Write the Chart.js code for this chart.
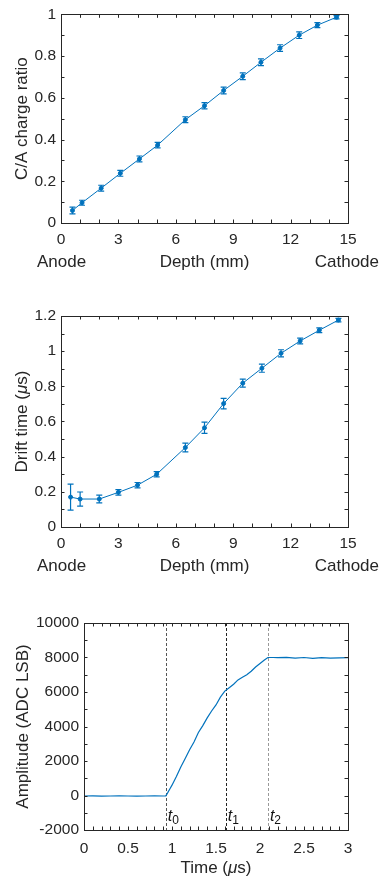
<!DOCTYPE html>
<html>
<head>
<meta charset="utf-8">
<script src="https://cdn.jsdelivr.net/npm/chart.js@4"></script>
<style>
  body { margin: 0; background: #fff; width: 382px; height: 878px; overflow: hidden; }
  .panel { position: absolute; left: 0; width: 382px; }
</style>
</head>
<body>
<div class="panel" style="top:0;height:295px"><canvas id="c1"></canvas></div>
<div class="panel" style="top:295px;height:300px"><canvas id="c2"></canvas></div>
<div class="panel" style="top:595px;height:283px"><canvas id="c3"></canvas></div>
<script>
// panel 1: C/A charge ratio vs depth
const depth1 = [0.6, 1.1, 2.1, 3.1, 4.1, 5.05, 6.5, 7.5, 8.5, 9.5, 10.45, 11.45, 12.45, 13.4, 14.4];
const ratio = [0.06, 0.097, 0.167, 0.238, 0.307, 0.373, 0.495, 0.562, 0.635, 0.703, 0.77, 0.838, 0.9, 0.948, 0.986];
const ratioErr = [0.016, 0.012, 0.014, 0.014, 0.014, 0.013, 0.014, 0.015, 0.016, 0.016, 0.016, 0.016, 0.016, 0.012, 0.008];

// panel 2: drift time vs depth
const depth2 = [0.5, 1, 2, 3, 4, 5, 6.5, 7.5, 8.5, 9.5, 10.5, 11.5, 12.5, 13.5, 14.5];
const drift = [0.17, 0.159, 0.159, 0.197, 0.238, 0.30, 0.452, 0.564, 0.702, 0.818, 0.903, 0.988, 1.058, 1.119, 1.177];
const driftErr = [0.074, 0.04, 0.022, 0.016, 0.015, 0.015, 0.025, 0.032, 0.03, 0.023, 0.023, 0.02, 0.016, 0.013, 0.01];

// panel 3: waveform
const time = [0, 0.1, 0.2, 0.3, 0.4, 0.5, 0.6, 0.7, 0.8, 0.9, 0.93, 0.95, 0.98, 1.0, 1.05, 1.1, 1.15, 1.2, 1.25, 1.3,
  1.35, 1.4, 1.45, 1.5, 1.55, 1.6, 1.65, 1.7, 1.75, 1.8, 1.85, 1.9, 1.95, 2.0, 2.05, 2.09, 2.15, 2.2, 2.3, 2.4,
  2.5, 2.6, 2.7, 2.8, 2.9, 3.0];
const amplitude = [-30, -20, -40, -30, -20, -30, -40, -30, -20, -30, -20, 150, 420, 600, 1100, 1650, 2150, 2650, 3100, 3650,
  4050, 4500, 4900, 5250, 5700, 6050, 6250, 6450, 6700, 6850, 7000, 7200, 7450, 7650, 7850, 8000, 8000, 7990, 8010, 7960,
  8000, 7950, 7990, 7960, 7980, 7990];
const markTimes = [0.93, 1.61, 2.09];
const markNames = ["0", "1", "2"];
const markColors = ["#555", "#222", "#999"];

const BLUE = "#0072BD";
const INK = "#262626";
const FONT = "'Liberation Sans', Arial, sans-serif";
const fmt = v => String(+v.toFixed(1));

function frame(chart, xMinor, yMinor) {
  const { ctx, chartArea: a, scales } = chart;
  const x = scales.x, y = scales.y;
  ctx.save();
  ctx.strokeStyle = INK;
  ctx.lineWidth = 1;
  ctx.strokeRect(Math.round(a.left) + 0.5, Math.round(a.top) + 0.5, Math.round(a.right - a.left), Math.round(a.bottom - a.top));
  const L = 3.5;
  ctx.beginPath();
  for (let k = 0; ; k++) {
    const v = x.min + k * xMinor;
    if (v > x.max + 1e-9) break;
    const px = Math.round(x.getPixelForValue(v)) + 0.5;
    ctx.moveTo(px, a.bottom); ctx.lineTo(px, a.bottom - L);
    ctx.moveTo(px, a.top); ctx.lineTo(px, a.top + L);
  }
  for (let k = 0; ; k++) {
    const v = y.min + k * yMinor;
    if (v > y.max + 1e-9) break;
    const py = Math.round(y.getPixelForValue(v)) + 0.5;
    ctx.moveTo(a.left, py); ctx.lineTo(a.left + L, py);
    ctx.moveTo(a.right, py); ctx.lineTo(a.right - L, py);
  }
  ctx.stroke();
  ctx.restore();
}

// draws a list of text parts in sequence; parts: [text, italic, size, dy]
function rich(ctx, parts, x, y, align) {
  let w = 0;
  parts.forEach(p => { ctx.font = (p[1] ? "italic " : "") + p[2] + "px " + FONT; w += ctx.measureText(p[0]).width; });
  let cx = align === "center" ? x - w / 2 : align === "right" ? x - w : x;
  ctx.textAlign = "left";
  ctx.textBaseline = "middle";
  parts.forEach(p => {
    ctx.font = (p[1] ? "italic " : "") + p[2] + "px " + FONT;
    ctx.fillText(p[0], cx, y + (p[3] || 0));
    cx += ctx.measureText(p[0]).width;
  });
}

function yTitle(ctx, parts, x, y) {
  ctx.save();
  ctx.translate(x, y);
  ctx.rotate(-Math.PI / 2);
  ctx.fillStyle = INK;
  rich(ctx, parts, 0, 0, "center");
  ctx.restore();
}

function errorBars(chart, errs) {
  const { ctx, scales } = chart;
  const data = chart.data.datasets[0].data;
  ctx.save();
  ctx.strokeStyle = BLUE;
  ctx.lineWidth = 1.2;
  ctx.beginPath();
  data.forEach((d, i) => {
    const px = scales.x.getPixelForValue(d.x);
    const lo = scales.y.getPixelForValue(d.y - errs[i]);
    const hi = scales.y.getPixelForValue(d.y + errs[i]);
    ctx.moveTo(px, lo); ctx.lineTo(px, hi);
    ctx.moveTo(px - 3, lo); ctx.lineTo(px + 3, lo);
    ctx.moveTo(px - 3, hi); ctx.lineTo(px + 3, hi);
  });
  ctx.stroke();
  ctx.restore();
}

function depthChart(id, xs, ys, errs, yMax, yTitleParts, boxTop, xHeight) {
  return new Chart(document.getElementById(id), {
    type: "scatter",
    data: {
      datasets: [{
        data: xs.map((v, i) => ({ x: v, y: ys[i] })),
        showLine: true,
        borderColor: BLUE,
        backgroundColor: BLUE,
        borderWidth: 1,
        pointRadius: 2,
        tension: 0
      }]
    },
    options: {
      responsive: true,
      maintainAspectRatio: false,
      animation: false,
      layout: { padding: { left: 0, right: 34, top: boxTop, bottom: 0 } },
      plugins: { legend: { display: false }, tooltip: { enabled: false } },
      scales: {
        x: {
          type: "linear", min: 0, max: 15,
          grid: { display: false, drawTicks: false }, border: { display: false },
          ticks: { stepSize: 3, color: INK, font: { family: FONT, size: 15.5 }, padding: 7, maxRotation: 0, callback: fmt },
          afterFit: s => { s.height = xHeight; }
        },
        y: {
          min: 0, max: yMax,
          grid: { display: false, drawTicks: false }, border: { display: false },
          ticks: { stepSize: 0.2, color: INK, font: { family: FONT, size: 15.5 }, padding: 5, callback: fmt },
          afterFit: s => { s.width = 61; }
        }
      }
    },
    plugins: [{
      id: "deco",
      afterDatasetsDraw: c => errorBars(c, errs),
      afterDraw: c => {
        frame(c, 1, 0.1);
        const ctx = c.ctx, a = c.chartArea;
        ctx.save();
        ctx.fillStyle = INK;
        const ty = a.bottom + 39;
        rich(ctx, [["Anode", false, 17]], 37, ty, "left");
        rich(ctx, [["Depth (mm)", false, 17]], (a.left + a.right) / 2, ty, "center");
        rich(ctx, [["Cathode", false, 17]], 379, ty, "right");
        ctx.restore();
        yTitle(ctx, yTitleParts, 22, (a.top + a.bottom) / 2);
      }
    }]
  });
}

depthChart("c1", depth1, ratio, ratioErr, 1, [["C/A charge ratio", false, 17]], 13, 72);
depthChart("c2", depth2, drift, driftErr, 1.2,
  [["Drift time (", false, 17], ["\u03bc", true, 17], ["s)", false, 17]], 21, 68);

new Chart(document.getElementById("c3"), {
  type: "scatter",
  data: {
    datasets: [{
      data: time.map((v, i) => ({ x: v, y: amplitude[i] })),
      showLine: true,
      borderColor: BLUE,
      borderWidth: 1.2,
      pointRadius: 0,
      tension: 0
    }]
  },
  options: {
    responsive: true,
    maintainAspectRatio: false,
    animation: false,
    layout: { padding: { left: 0, right: 34, top: 28, bottom: 0 } },
    plugins: { legend: { display: false }, tooltip: { enabled: false } },
    scales: {
      x: {
        type: "linear", min: 0, max: 3,
        grid: { display: false, drawTicks: false }, border: { display: false },
        ticks: { stepSize: 0.5, color: INK, font: { family: FONT, size: 15.5 }, padding: 9, maxRotation: 0, callback: fmt },
        afterFit: s => { s.height = 48; }
      },
      y: {
        min: -2000, max: 10000,
        grid: { display: false, drawTicks: false }, border: { display: false },
        ticks: { stepSize: 2000, color: INK, font: { family: FONT, size: 15.5 }, padding: 5, callback: v => String(v) },
        afterFit: s => { s.width = 84; }
      }
    }
  },
  plugins: [{
    id: "marks",
    beforeDatasetsDraw: c => {
      const ctx = c.ctx, a = c.chartArea;
      ctx.save();
      ctx.lineWidth = 1;
      ctx.setLineDash([3, 2]);
      markTimes.forEach((t, i) => {
        const px = Math.round(c.scales.x.getPixelForValue(t)) + 0.5;
        ctx.strokeStyle = markColors[i];
        ctx.beginPath();
        ctx.moveTo(px, a.top); ctx.lineTo(px, a.bottom);
        ctx.stroke();
      });
      ctx.restore();
    },
    afterDraw: c => {
      frame(c, 0.1, 1000);
      const ctx = c.ctx, a = c.chartArea;
      ctx.save();
      ctx.fillStyle = "#111";
      markTimes.forEach((t, i) => {
        const px = c.scales.x.getPixelForValue(t);
        rich(ctx, [["t", true, 16, 0], [markNames[i], false, 12, 4]], px + 2, a.bottom - 13, "left");
      });
      ctx.fillStyle = INK;
      rich(ctx, [["Time (", false, 17], ["\u03bc", true, 17], ["s)", false, 17]], (a.left + a.right) / 2, a.bottom + 38, "center");
      ctx.restore();
      yTitle(ctx, [["Amplitude (ADC LSB)", false, 17]], 23, (a.top + a.bottom) / 2);
    }
  }]
});
</script>
</body>
</html>
